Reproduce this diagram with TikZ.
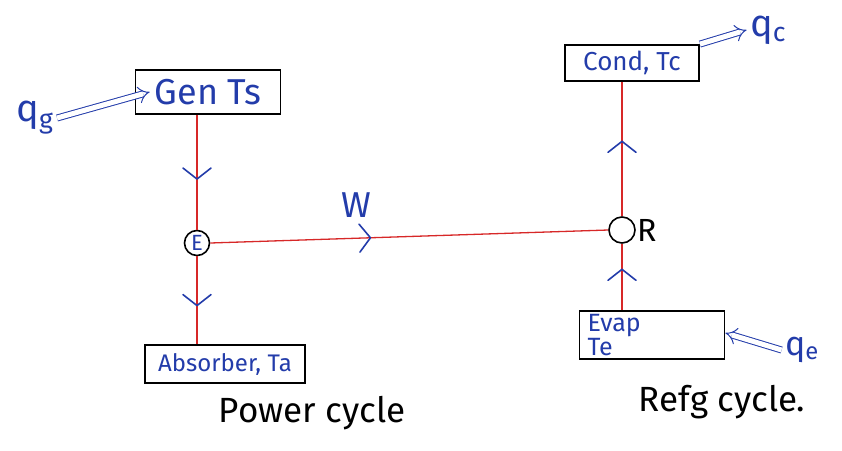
\documentclass[tikz,border=0pt]{standalone}
\usepackage{fontspec}
\setmainfont{Fira Sans}
\usetikzlibrary{arrows.meta,decorations.markings}
\definecolor{ink}{RGB}{35,60,170}
\definecolor{wire}{RGB}{215,40,40}
\tikzset{
  box/.style={draw=black, line width=1.8pt, minimum width=#1, inner sep=1pt, text=ink},
  box/.default=140pt,
  pump/.style={circle, draw=black, line width=1.6pt, minimum size=25pt, inner sep=0pt, text=ink, font=\fontsize{22}{22}\selectfont},
  pipe/.style={draw=wire, line width=1.3pt},
  midarrow/.style={postaction={decorate}, decoration={markings, mark=at position #1 with {\draw[ink, line width=1.6pt, line cap=round, line join=round] (-10pt,-14pt) -- (1pt,0pt) -- (-10pt,14pt);}}},
  heat/.style={ink, line width=1pt, double, double distance=5pt, -{Implies}},
  qlabel/.style={text=ink, font=\fontsize{38}{38}\selectfont},
  caption/.style={text=black, font=\fontsize{35}{35}\selectfont}
}
\begin{document}
\begin{tikzpicture}[x=1pt,y=-1pt]
\useasboundingbox (0,0) rectangle (842,450);
% boxes
\node[box=145pt, minimum height=44pt, font=\fontsize{36}{36}\selectfont] (gen) at (208,92) {Gen Ts};
\node[box=160pt, minimum height=38pt, font=\fontsize{24}{24}\selectfont] (abs) at (225,364) {Absorber, Ta};
\node[box=134pt, minimum height=36pt, font=\fontsize{26}{26}\selectfont] (cond) at (632,63) {Cond, Tc};
\node[box=145pt, minimum height=48pt, align=left, text width=129pt, inner xsep=8pt, font=\fontsize{25}{21}\selectfont] (evap) at (652,335) {Evap\\Te};
% machines
\node[pump] (E) at (197,243) {E};
\node[circle, draw=black, line width=1.6pt, minimum size=26pt, inner sep=0pt] (R) at (622,230) {};
\node[text=black, font=\fontsize{32}{32}\selectfont, anchor=west, inner sep=1pt] (Rl) at (R.east) {R};
% power cycle wiring
\coordinate (gb) at (gen.south -| E);
\coordinate (at) at (abs.north -| E);
\draw[pipe, midarrow=0.55] (gb) -- (E.north);
\draw[pipe, midarrow=0.55] (E.south) -- (at);
% work shaft
\draw[pipe, midarrow=0.4] (E.east) -- (R.west);
\node[text=ink, font=\fontsize{36}{36}\selectfont] (W) at (356,205) {W};
% refrigeration wiring
\coordinate (cb) at (cond.south -| R);
\coordinate (et) at (evap.north -| R);
\draw[pipe, midarrow=0.55] (R.north) -- (cb);
\draw[pipe, midarrow=0.6] (et) -- (R.south);
% heat flows
\node[qlabel] (qg) at (35,118) {q\textsubscript{g}};
\draw[heat] (qg.east) -- ([xshift=15pt]gen.west);
\node[qlabel] (qc) at (768,30) {q\textsubscript{c}};
\draw[heat] (cond.north east) -- (qc.west);
\node[qlabel, font=\fontsize{34}{34}\selectfont] (qe) at (802,350) {q\textsubscript{e}};
\draw[heat] (qe.west) -- ([yshift=2pt]evap.east);
% captions
\node[caption] (pc) at (312,413) {Power cycle};
\node[caption] (rc) at (722,402) {Refg cycle.};
\end{tikzpicture}
\end{document}
